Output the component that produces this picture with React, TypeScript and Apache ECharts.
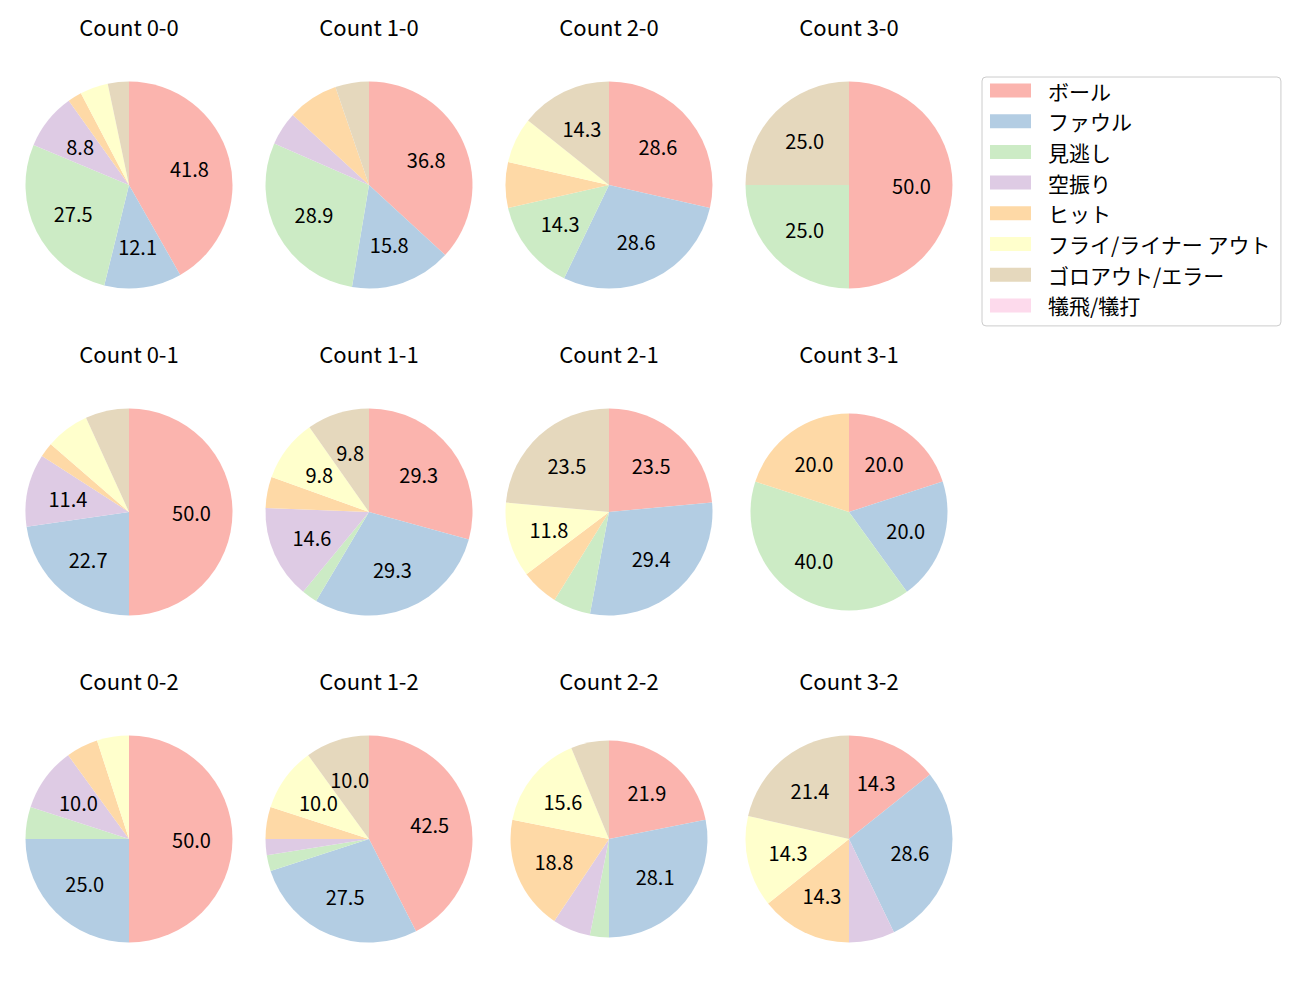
import React, { useEffect, useRef } from "react";
import * as echarts from "echarts";

const categories = [
  "ボール",
  "ファウル",
  "見逃し",
  "空振り",
  "ヒット",
  "フライ/ライナー アウト",
  "ゴロアウト/エラー",
  "犠飛/犠打",
];
const colors = ["#fbb4ae", "#b3cde3", "#ccebc5", "#decbe4", "#fed9a6", "#ffffcc", "#e5d8bd", "#fddaec"];

// counts per category (same order as categories), key = balls-strikes
const count00 = [38, 11, 25, 8, 2, 4, 3, 0];
const count10 = [14, 6, 11, 2, 3, 0, 2, 0];
const count20 = [4, 4, 2, 0, 1, 1, 2, 0];
const count30 = [2, 0, 1, 0, 0, 0, 1, 0];
const count01 = [22, 10, 0, 5, 1, 3, 3, 0];
const count11 = [12, 12, 1, 6, 2, 4, 4, 0];
const count21 = [4, 5, 1, 0, 1, 2, 4, 0];
const count31 = [1, 1, 2, 0, 1, 0, 0, 0];
const count02 = [10, 5, 1, 2, 1, 1, 0, 0];
const count12 = [17, 11, 1, 1, 2, 4, 4, 0];
const count22 = [7, 9, 1, 2, 6, 5, 2, 0];
const count32 = [2, 4, 0, 1, 2, 2, 3, 0];

const countLabels = ["Count 0-0", "Count 1-0", "Count 2-0", "Count 3-0", "Count 0-1", "Count 1-1", "Count 2-1", "Count 3-1", "Count 0-2", "Count 1-2", "Count 2-2", "Count 3-2"];
const countData = [count00, count10, count20, count30, count01, count11, count21, count31, count02, count12, count22, count32];

const FONT = "'Noto Sans CJK JP', 'Noto Sans', sans-serif";
const colX = [129, 369, 609, 849];
const rowY = [185, 512, 839];
const smallPies = new Set([7, 10]);

export default function App() {
  const ref = useRef<HTMLDivElement>(null);
  useEffect(() => {
    if (!ref.current) return;
    const chart = echarts.init(ref.current, null, { renderer: "svg" });
    const series: any[] = [];
    const titles: any[] = [];
    countData.forEach((counts, idx) => {
      const col = idx % 4;
      const row = Math.floor(idx / 4);
      const cx = colX[col];
      const cy = rowY[row];
      const r = smallPies.has(idx) ? 98.5 : 103.5;
      const total = counts.reduce((a, b) => a + b, 0);
      titles.push({
        text: countLabels[idx],
        left: cx,
        top: cy - 157 - 13,
        textAlign: "center",
        padding: 0,
        textStyle: { fontSize: 22, fontWeight: "normal", color: "#000", fontFamily: FONT },
      });
      series.push({
        type: "pie",
        name: countLabels[idx],
        center: [cx, cy],
        radius: [0, r],
        startAngle: 90,
        clockwise: true,
        silent: true,
        avoidLabelOverlap: false,
        label: { show: false },
        labelLine: { show: false },
        emphasis: { disabled: true },
        itemStyle: { borderWidth: 0 },
        data: categories.map((name, i) => ({ name, value: counts[i], itemStyle: { color: colors[i] } })),
      });
      series.push({
        type: "pie",
        name: countLabels[idx] + " labels",
        center: [cx, cy],
        radius: [r * 0.15, r],
        startAngle: 90,
        clockwise: true,
        silent: true,
        avoidLabelOverlap: false,
        emphasis: { disabled: true },
        itemStyle: { color: "rgba(0,0,0,0)", borderWidth: 0 },
        labelLine: { show: false },
        label: {
          show: true,
          position: "inside",
          color: "#000",
          fontSize: 20,
          fontFamily: FONT,
          padding: [0, 0, 10, 0],
          formatter: (p: any) => {
            const pct = (counts[p.dataIndex] / total) * 100;
            return pct >= 8 ? pct.toFixed(1) : "";
          },
        },
        data: categories.map((name, i) => ({ name, value: counts[i] })),
      });
    });
    chart.setOption({
      animation: false,
      backgroundColor: "#ffffff",
      title: titles,
      legend: {
        orient: "vertical",
        left: 982,
        top: 77,
        icon: "rect",
        itemWidth: 41,
        itemHeight: 14,
        itemGap: 9.7,
        padding: [3, 10, 10, 8],
        borderColor: "#cccccc",
        borderWidth: 1,
        borderRadius: 4,
        selectedMode: false,
        textStyle: { fontSize: 21, color: "#000", fontFamily: FONT, padding: [0, 0, 0, 12] },
        data: categories.map((name, i) => ({ name, itemStyle: { color: colors[i] } })),
      },
      series,
    });
    return () => chart.dispose();
  }, []);
  return <div ref={ref} style={{ position: "absolute", left: 0, top: 0, width: 1300, height: 1000 }} />;
}
